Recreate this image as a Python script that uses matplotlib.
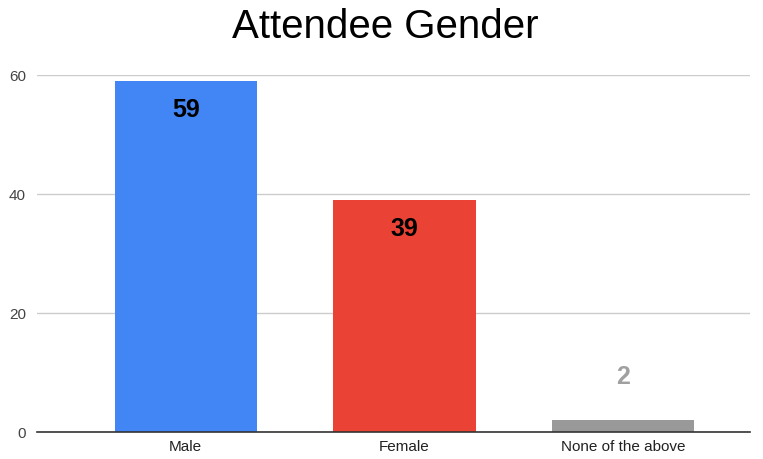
import matplotlib.pyplot as plt

# Data
categories = ['Male', 'Female', 'None of the above']
counts = [59, 39, 2]
bar_colors = ['#4285F4', '#EA4335', '#999999']
yticks = [0, 20, 40, 60]

plt.rcParams['font.family'] = ['Liberation Sans', 'DejaVu Sans']

fig = plt.figure(figsize=(7.63, 4.59), dpi=100)
ax = fig.add_axes([0.0485, 0.0588, 0.9345, 0.7778])

x = range(len(categories))
bars = ax.bar(x, counts, width=0.65, color=bar_colors, zorder=3)

# Value labels: inside the bar when tall enough, above it otherwise
for bar, val, col in zip(bars, counts, bar_colors):
    cx = bar.get_x() + bar.get_width() / 2
    if val > 10:
        ax.annotate(str(val), (cx, val), xytext=(0, -21), textcoords='offset points',
                    ha='center', va='center', fontsize=18, fontweight='bold', color='black')
    else:
        ax.annotate(str(val), (cx, val), xytext=(0, 31), textcoords='offset points',
                    ha='center', va='center', fontsize=18, fontweight='bold', color='#a0a0a0')

ax.set_xlim(-0.68, 2.58)
ax.set_ylim(0, 60)
ax.set_yticks(yticks)
ax.set_xticks(list(x))
ax.set_xticklabels(categories)
ax.tick_params(axis='both', length=0, labelsize=11, colors='#444444')
ax.tick_params(axis='x', pad=6, colors='#222222')
ax.tick_params(axis='y', pad=8)

ax.grid(axis='y', color='#cccccc', linewidth=1, zorder=0)
for side in ['top', 'right', 'left']:
    ax.spines[side].set_visible(False)
ax.spines['bottom'].set_color('#333333')
ax.spines['bottom'].set_linewidth(1.2)
ax.spines['bottom'].set_zorder(4)

fig.suptitle('Attendee Gender', fontsize=29, x=0.505, y=0.982, va='top', color='black')

plt.savefig('out.png', dpi=100)
